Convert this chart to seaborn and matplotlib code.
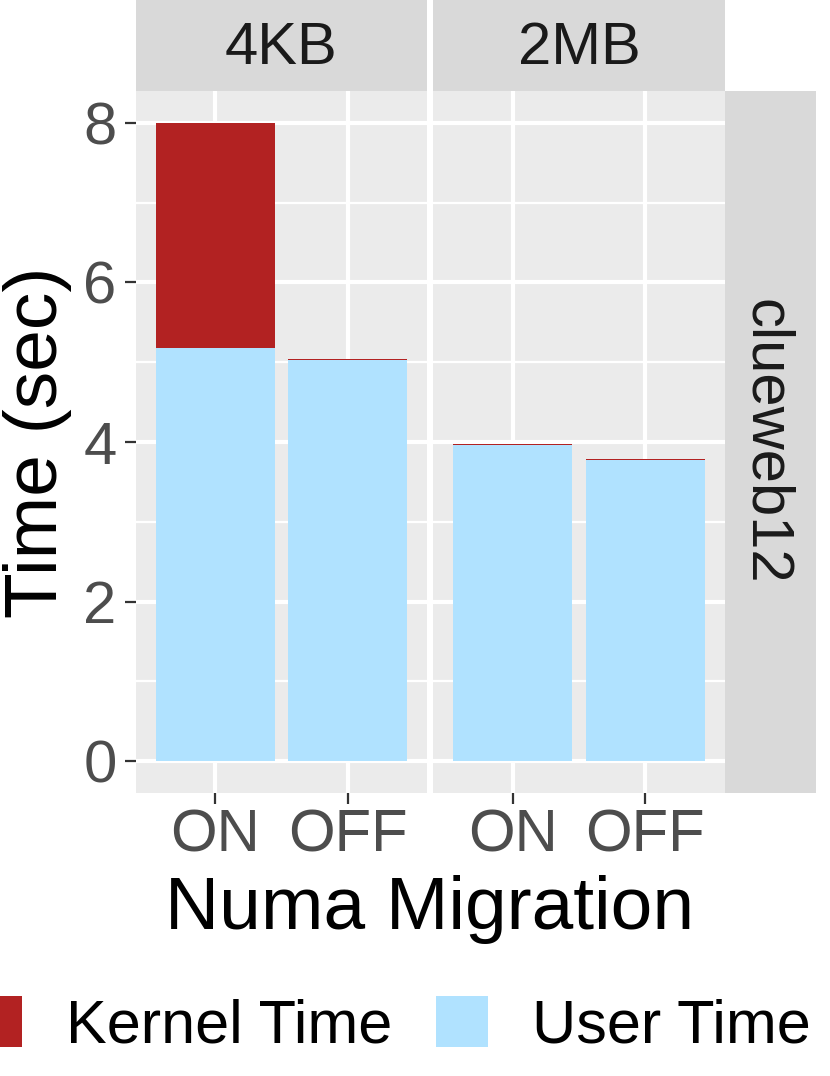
import matplotlib
matplotlib.use("Agg")
import matplotlib.pyplot as plt
import seaborn as sns
import pandas as pd
from matplotlib.patches import Patch
from matplotlib.ticker import FixedLocator

# ---- data ----
page_sizes = ["4KB", "2MB"]
migration = ["ON", "OFF"]
user_4kb = [5.18, 5.03]
kernel_4kb = [2.82, 0.01]
user_2mb = [3.96, 3.78]
kernel_2mb = [0.01, 0.01]
dataset = "clueweb12"
y_ticks = [0, 2, 4, 6, 8]
legend_labels = ["Kernel Time", "User Time"]

rows = []
for ps, users, kerns in [("4KB", user_4kb, kernel_4kb), ("2MB", user_2mb, kernel_2mb)]:
    for m, u, k in zip(migration, users, kerns):
        rows.append({"page": ps, "migration": m, "user": u, "kernel": k, "total": u + k})
df = pd.DataFrame(rows)

RED = "#B22222"
BLUE = "#B0E2FF"
PANEL_BG = "#EBEBEB"
STRIP_BG = "#D9D9D9"
TICK_C = "#333333"
LABEL_C = "#4D4D4D"

sns.set_theme(style="darkgrid")
plt.rcParams["font.family"] = ["Liberation Sans", "DejaVu Sans"]
plt.rcParams["text.color"] = "black"

W, H = 830, 1076
fig = plt.figure(figsize=(W / 100, H / 100), dpi=100)

def frac(x0, y0, x1, y1):
    return [x0 / W, 1 - y1 / H, (x1 - x0) / W, (y1 - y0) / H]

panel_x = [(136, 427), (433, 725)]
ptop, pbot = 91, 793

axes = []
for i, ps in enumerate(page_sizes):
    x0, x1 = panel_x[i]
    ax = fig.add_axes(frac(x0, ptop, x1, pbot))
    sub = df[df["page"] == ps]
    sns.barplot(data=sub, x="migration", y="total", order=migration, color=RED,
                saturation=1, width=0.9, linewidth=0, edgecolor="none", ax=ax, errorbar=None)
    sns.barplot(data=sub, x="migration", y="user", order=migration, color=BLUE,
                saturation=1, width=0.9, linewidth=0, edgecolor="none", ax=ax, errorbar=None)
    ax.set_facecolor(PANEL_BG)
    ax.set_xlim(-0.6, 1.6)
    ax.set_ylim(-0.4, 8.4)
    ax.yaxis.set_major_locator(FixedLocator(y_ticks))
    ax.yaxis.set_minor_locator(FixedLocator([1, 3, 5, 7]))
    ax.set_axisbelow(True)
    ax.grid(True, which="major", color="white", linewidth=3.0)
    ax.grid(True, which="minor", axis="y", color="white", linewidth=1.6)
    ax.xaxis.grid(True, which="major", color="white", linewidth=3.0)
    for s in ax.spines.values():
        s.set_visible(False)
    ax.set_xlabel("")
    ax.set_ylabel("")
    ax.tick_params(axis="both", which="major", length=8, width=1.6, color=TICK_C,
                   labelcolor=LABEL_C, labelsize=43, direction="out",
                   bottom=True, left=True)
    ax.tick_params(axis="y", which="minor", length=0)
    ax.tick_params(axis="x", pad=3)
    ax.tick_params(axis="y", pad=6)
    if i == 1:
        ax.tick_params(axis="y", which="both", left=False, labelleft=False)
    axes.append(ax)

    # top strip
    sax = fig.add_axes(frac(x0, 0, x1, ptop))
    sax.set_facecolor(STRIP_BG)
    sax.grid(False)
    sax.set_xticks([]); sax.set_yticks([])
    for s in sax.spines.values():
        s.set_visible(False)
    sax.text(0.5, 0.47, ps, ha="center", va="center", fontsize=43, color="#1A1A1A",
             transform=sax.transAxes)

# right strip
rax = fig.add_axes(frac(725, ptop, 816, pbot))
rax.set_facecolor(STRIP_BG)
rax.grid(False)
rax.set_xticks([]); rax.set_yticks([])
for s in rax.spines.values():
    s.set_visible(False)
rax.text(0.45, 0.5, dataset, ha="center", va="center", rotation=-90, fontsize=43,
         color="#1A1A1A", transform=rax.transAxes)

# axis titles
fig.text(37 / W, 1 - 442 / H, "Time (sec)", rotation=90, ha="center", va="center",
         fontsize=54, color="black")
fig.text(430 / W, 1 - 910 / H, "Numa Migration", ha="center", va="center",
         fontsize=54, color="black")

handles = [Patch(facecolor=RED, edgecolor="none"), Patch(facecolor=BLUE, edgecolor="none")]
leg = fig.legend(handles, legend_labels, loc="center", bbox_to_anchor=(390 / W, 1 - 1026 / H),
                 ncol=2, frameon=False, fontsize=44, handlelength=0.85, handleheight=0.9,
                 handletextpad=0.72, columnspacing=0.72, borderpad=0, borderaxespad=0,
                 labelcolor="black")

fig.savefig("out.png", dpi=100)
